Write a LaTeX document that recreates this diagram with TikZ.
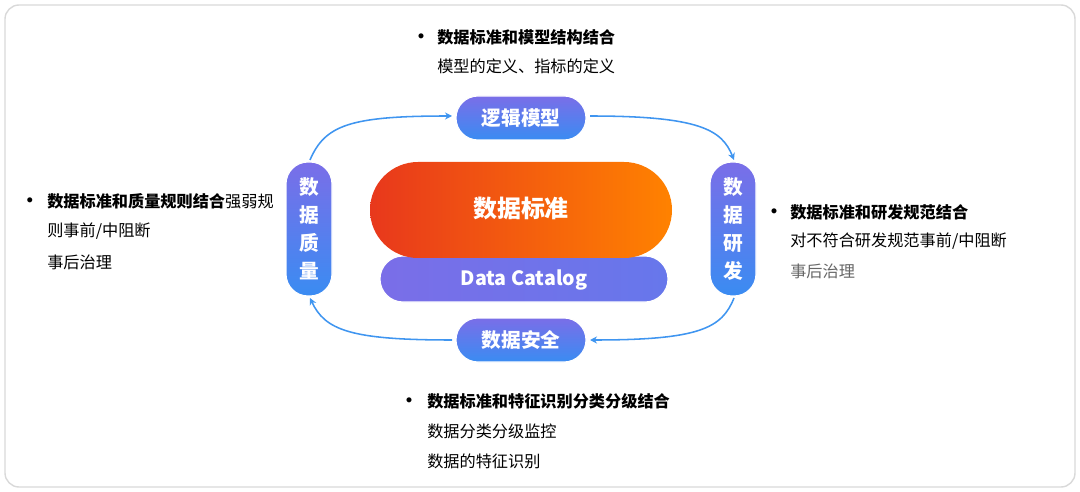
\documentclass[tikz,border=0pt]{standalone}
\usepackage{fontspec}
\setmainfont{Noto Sans CJK SC}
\usetikzlibrary{positioning, arrows.meta}
\definecolor{pilltop}{HTML}{7A6EE8}
\definecolor{pillbot}{HTML}{3A8CF2}
\definecolor{stdleft}{HTML}{E8381C}
\definecolor{stdright}{HTML}{FF8200}
\definecolor{flow}{HTML}{3F95F0}
\begin{document}
\begin{tikzpicture}[x=0.025cm, y=-0.025cm,
  pill/.style={rounded corners=22*0.025cm, draw=white, line width=0.8pt, top color=pilltop, bottom color=pillbot},
  lab/.style={text=white, font=\bfseries\fontsize{14}{16}\selectfont},
  flowarr/.style={-{Stealth[length=5pt,width=5pt]}, draw=flow, line width=1.1pt},
  note/.style={anchor=west, inner sep=0pt, font=\fontsize{11.5}{13}\selectfont},
  dot/.style={anchor=center, inner sep=0pt, font=\fontsize{9}{10}\selectfont}]
	\useasboundingbox (0,0) rectangle (1080,492);
	\draw[draw=black!15, line width=1pt, rounded corners=10pt] (5,5) rectangle (1075,487);
	% blue layer and orange standard
	\shade[pill, rounded corners=23*0.025cm, left color=pilltop, right color=pilltop!70!pillbot] (380,256) rectangle (668,302);
	\shade[left color=stdleft, right color=stdright, rounded corners=48*0.025cm] (370,162) rectangle (672,258);
	\node[lab, font=\bfseries\fontsize{17}{19}\selectfont] (std) at (521,208) {数据标准};
	\node[lab] (cat) at (524,280) {Data Catalog};
	% four stages
	\shade[pill] (456,96) rectangle (586,140);
	\node[lab] (logic) at (521,118) {逻辑模型};
	\shade[pill] (456,318) rectangle (586,362);
	\node[lab] (safe) at (521,340) {数据安全};
	\shade[pill] (286,162) rectangle (332,296);
	\node[lab, align=center, font=\bfseries\fontsize{14}{20}\selectfont] (qual) at (309,229) {数\\据\\质\\量};
	\shade[pill] (710,162) rectangle (756,296);
	\node[lab, align=center, font=\bfseries\fontsize{14}{20}\selectfont] (dev) at (733,229) {数\\据\\研\\发};
	\coordinate (qualtop) at (310,160);
	\coordinate (qualbot) at (310,298);
	\coordinate (devtop) at (734,160);
	\coordinate (devbot) at (734,298);
	\coordinate (logicl) at (452,116);
	\coordinate (logicr) at (590,116);
	\coordinate (safel) at (452,340);
	\coordinate (safer) at (590,340);
	\draw[flowarr] (qualtop) .. controls (325,125) and (350,116) .. (logicl);
	\draw[flowarr] (logicr) .. controls (700,116) and (722,130) .. (devtop);
	\draw[flowarr] (devbot) .. controls (722,328) and (700,340) .. (safer);
	\draw[flowarr] (safel) .. controls (350,340) and (325,330) .. (qualbot);
	% notes
	\node[dot] (b1) at (421,37) {$\bullet$};
	\node[note] (t1) at (437,37) {\bfseries 数据标准和模型结构结合};
	\node[note] (t2) at (437,66) {模型的定义、指标的定义};
	\node[dot] (b2) at (30,201) {$\bullet$};
	\node[note] (l1) at (47,201) {{\bfseries 数据标准和质量规则结合}强弱规};
	\node[note] (l2) at (47,231) {则事前/中阻断};
	\node[note] (l3) at (47,262) {事后治理};
	\node[dot] (b3) at (774,212) {$\bullet$};
	\node[note] (r1) at (790,212) {\bfseries 数据标准和研发规范结合};
	\node[note] (r2) at (790,241) {对不符合研发规范事前/中阻断};
	\node[note, text=black!60] (r3) at (790,271) {事后治理};
	\node[dot] (b4) at (409,401) {$\bullet$};
	\node[note] (d1) at (427,401) {\bfseries 数据标准和特征识别分类分级结合};
	\node[note] (d2) at (427,431) {数据分类分级监控};
	\node[note] (d3) at (427,461) {数据的特征识别};
\end{tikzpicture}
\end{document}
